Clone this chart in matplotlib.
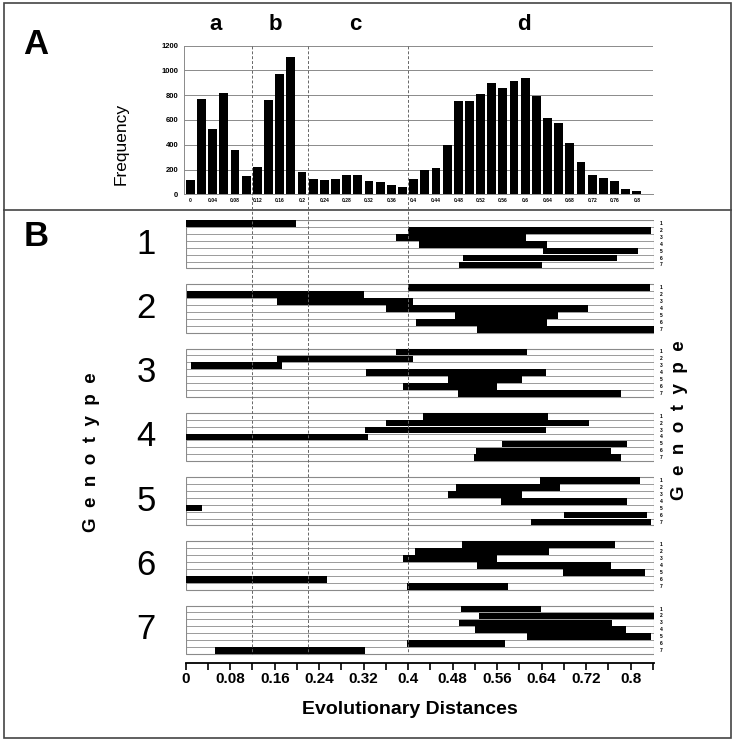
import matplotlib
matplotlib.use("Agg")
import matplotlib.pyplot as plt
import numpy as np
from matplotlib.lines import Line2D
from matplotlib.patches import Rectangle
from matplotlib import transforms

# --- panel A: histogram of pairwise distances ---
bin_centers = [0.00, 0.02, 0.04, 0.06, 0.08, 0.10, 0.12, 0.14, 0.16, 0.18,
               0.20, 0.22, 0.24, 0.26, 0.28, 0.30, 0.32, 0.34, 0.36, 0.38,
               0.40, 0.42, 0.44, 0.46, 0.48, 0.50, 0.52, 0.54, 0.56, 0.58,
               0.60, 0.62, 0.64, 0.66, 0.68, 0.70, 0.72, 0.74, 0.76, 0.78, 0.80]
frequency = [113, 767, 525, 821, 355, 148, 223, 759, 971, 1106,
             183, 121, 116, 121, 153, 153, 110, 100, 78, 55,
             121, 194, 210, 399, 750, 755, 809, 898, 860, 917,
             936, 793, 615, 577, 413, 259, 156, 129, 105, 40, 24]
hist_tick_labels = ["0", "0.04", "0.08", "0.12", "0.16", "0.2", "0.24", "0.28",
                    "0.32", "0.36", "0.4", "0.44", "0.48", "0.52", "0.56", "0.6",
                    "0.64", "0.68", "0.72", "0.76", "0.8"]
region_labels = ["a", "b", "c", "d"]
region_label_x = [0.045, 0.152, 0.295, 0.598]
region_bounds = [0.11, 0.21, 0.39]

# --- panel B: distance ranges, genotype x genotype (start, end) ---
genotypes = ["1", "2", "3", "4", "5", "6", "7"]
ranges_g1 = [(0.0, 0.198), (0.400, 0.837), (0.378, 0.611), (0.419, 0.650),
             (0.642, 0.814), (0.499, 0.775), (0.492, 0.640)]
ranges_g2 = [(0.400, 0.835), (0.002, 0.321), (0.165, 0.408), (0.360, 0.724),
             (0.484, 0.670), (0.414, 0.649), (0.523, 0.845)]
ranges_g3 = [(0.379, 0.613), (0.165, 0.409), (0.010, 0.174), (0.324, 0.648),
             (0.471, 0.604), (0.390, 0.560), (0.490, 0.782)]
ranges_g4 = [(0.427, 0.651), (0.361, 0.726), (0.322, 0.647), (0.0, 0.328),
             (0.568, 0.794), (0.522, 0.764), (0.519, 0.783)]
ranges_g5 = [(0.637, 0.816), (0.486, 0.673), (0.471, 0.605), (0.567, 0.793),
             (0.0, 0.029), (0.681, 0.830), (0.621, 0.836)]
ranges_g6 = [(0.497, 0.771), (0.412, 0.654), (0.391, 0.559), (0.523, 0.764),
             (0.679, 0.825), (0.0, 0.254), (0.397, 0.579)]
ranges_g7 = [(0.495, 0.639), (0.527, 0.844), (0.491, 0.766), (0.521, 0.791),
             (0.614, 0.837), (0.398, 0.574), (0.052, 0.323)]
all_ranges = [ranges_g1, ranges_g2, ranges_g3, ranges_g4, ranges_g5, ranges_g6, ranges_g7]

ARIAL = ["Liberation Sans", "DejaVu Sans"]
W, H = 736, 749
GRID = "#8a8a8a"


def fx(px):
    return px / W


def fy(py):
    return 1 - py / H


fig = plt.figure(figsize=(W / 100, H / 100), dpi=100)

# frame and separator
fig.add_artist(Rectangle((fx(4), fy(738)), fx(727), (738 - 3) / H, fill=False,
                         edgecolor="#444444", lw=1.2, transform=fig.transFigure))
fig.add_artist(Line2D([fx(4), fx(731)], [fy(210), fy(210)], color="#444444", lw=1.2,
                      transform=fig.transFigure))

# ---------------- panel A ----------------
axA = fig.add_axes([fx(184), fy(194.3), fx(653 - 184), (194.3 - 45.7) / H])
axA.bar(bin_centers, frequency, width=0.0158, color="black", zorder=3)
axA.set_xlim(-0.0115, 0.829)
axA.set_ylim(0, 1200)
axA.set_yticks(np.arange(0, 1201, 200))
axA.yaxis.grid(True, color=GRID, lw=0.7)
axA.set_axisbelow(True)
axA.set_xticks(bin_centers[::2])
axA.set_xticklabels(hist_tick_labels)
axA.tick_params(axis="x", length=0, pad=3, labelsize=3.6)
axA.tick_params(axis="y", length=0, pad=4, labelsize=5.5)
for lab in axA.get_xticklabels() + axA.get_yticklabels():
    lab.set_fontweight("bold")
    lab.set_family(ARIAL)
for side in ["top", "right"]:
    axA.spines[side].set_visible(False)
axA.spines["left"].set_color(GRID)
axA.spines["bottom"].set_color(GRID)
axA.spines["left"].set_linewidth(0.7)
axA.spines["bottom"].set_linewidth(0.7)

blend = transforms.blended_transform_factory(axA.transData, fig.transFigure)
fig.text(fx(121), fy(144), "Frequency", rotation=90, fontsize=12.5, family=ARIAL,
         ha="center", va="center")
for lab, x in zip(region_labels, region_label_x):
    axA.text(x, fy(25), lab, transform=blend, ha="center", va="center",
             fontsize=16, fontweight="bold", family=ARIAL)
for xb in region_bounds:
    fig.add_artist(Line2D([xb, xb], [fy(45.7), fy(654)], transform=blend,
                          color="#666666", lw=0.7, dashes=(3, 2)))

fig.text(fx(36), fy(45), "A", fontsize=25, fontweight="bold", family=ARIAL,
         ha="center", va="center")
fig.text(fx(36), fy(237), "B", fontsize=25, fontweight="bold", family=ARIAL,
         ha="center", va="center")

# ---------------- panel B ----------------
n_rows = 7
gap = 2.29
pitch = n_rows + gap
bottom_pad = 1.26
y_max = 6 * pitch + n_rows + bottom_pad

axB = fig.add_axes([fx(185.7), fy(662.7), fx(654 - 185.7), (662.7 - 220) / H])
axB.set_xlim(0, 0.842)
axB.set_ylim(y_max, 0)

for g, (name, ranges) in enumerate(zip(genotypes, all_ranges)):
    top = g * pitch
    starts = [r[0] for r in ranges]
    widths = [r[1] - r[0] for r in ranges]
    centers = [top + i + 0.5 for i in range(n_rows)]
    axB.hlines([top + i for i in range(1, n_rows)], 0, 0.842, color=GRID, lw=0.6, zorder=1)
    axB.add_patch(Rectangle((0, top), 0.842, n_rows, fill=False, edgecolor=GRID,
                            lw=0.8, zorder=1))
    axB.barh(centers, widths, left=starts, height=0.96, color="black", zorder=3)
    for i, c in enumerate(centers):
        axB.text(0.855, c, genotypes[i], fontsize=3.6, fontweight="bold",
                 family=ARIAL, ha="center", va="center")
    axB.text(-0.0715, top + n_rows / 2, name, fontsize=25, family=ARIAL,
             ha="center", va="center")

axB.text(-0.1685, 33.5, "G  e  n  o  t  y  p  e", rotation=90, fontsize=13.5,
         fontweight="bold", family=ARIAL, ha="center", va="center")
axB.text(0.887, 28.9, "G  e  n  o  t  y  p  e", rotation=90, fontsize=13.5,
         fontweight="bold", family=ARIAL, ha="center", va="center")

for side in ["top", "right", "left"]:
    axB.spines[side].set_visible(False)
axB.spines["bottom"].set_linewidth(1.3)
axB.set_yticks([])
axB.set_xticks(np.arange(0, 0.81, 0.08))
axB.set_xticklabels(["0", "0.08", "0.16", "0.24", "0.32", "0.4", "0.48", "0.56",
                     "0.64", "0.72", "0.8"])
axB.set_xticks(np.arange(0.04, 0.842, 0.08), minor=True)
axB.tick_params(axis="x", which="both", length=5, width=1.2, labelsize=11, pad=2)
for lab in axB.get_xticklabels():
    lab.set_fontweight("bold")
    lab.set_family(ARIAL)

fig.text(fx(410), fy(710), "Evolutionary Distances", fontsize=14,
         fontweight="bold", family=ARIAL, ha="center", va="center")

fig.savefig("out.png", dpi=100)
